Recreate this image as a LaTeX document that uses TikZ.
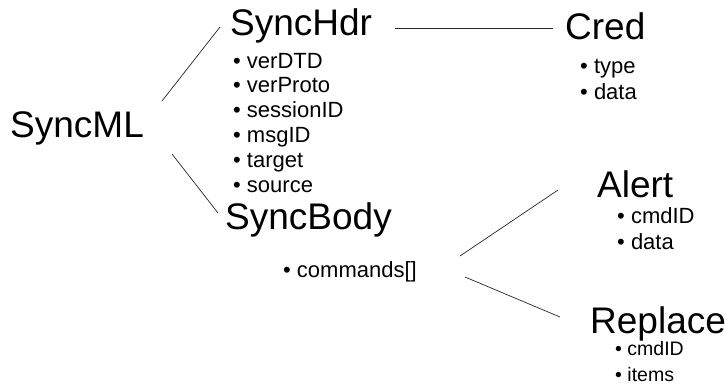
\documentclass[tikz,border=0pt]{standalone}
\usepackage{fontspec}
\setmainfont{Liberation Sans}

\def\tfnt{\fontsize{37}{40}\selectfont}
\def\ifnt{\fontsize{22}{25}\selectfont}
\def\sfnt{\fontsize{19.5}{22}\selectfont}
\def\dy{24.8}

\begin{document}
\begin{tikzpicture}[x=1pt,y=-1pt,
  title/.style={anchor=base west,inner sep=0pt},
  entry/.style={anchor=base west,inner sep=0pt},
  link/.style={line width=0.7pt,black!85}]
 \useasboundingbox (0,0) rectangle (725,391);

 % titles
 \node[title] (ML)   at (10,137)  {\tfnt SyncML};
 \node[title] (Hdr)  at (230,35)  {\tfnt SyncHdr};
 \node[title] (Body) at (225,229) {\tfnt SyncBody};
 \node[title] (Cred) at (565,39)  {\tfnt Cred};
 \node[title] (Al)   at (597,197) {\tfnt Alert};
 \node[title] (Rep)  at (590,333) {\tfnt Replace};

 % bullet lists
 \foreach \t [count=\i from 0] in {verDTD,verProto,sessionID,msgID,target,source}
   \node[entry] (hdr\i) at (233,{68+\dy*\i}) {\ifnt\textbullet\ \t};
 \node[entry] (cmds) at (283,277) {\ifnt\textbullet\ commands[]};
 \foreach \t [count=\i from 0] in {type,data}
   \node[entry] (cred\i) at (580,{73+26*\i}) {\ifnt\textbullet\ \t};
 \foreach \t [count=\i from 0] in {cmdID,data}
   \node[entry] (al\i) at (617,{223+26*\i}) {\ifnt\textbullet\ \t};
 \foreach \t [count=\i from 0] in {cmdID,items}
   \node[entry] (rep\i) at (615,{355+26*\i}) {\sfnt\textbullet\ \t};

 % line ends
 \coordinate (mlA) at (162,101);  \coordinate (hdrA) at (220,27);
 \coordinate (mlB) at (172,154);  \coordinate (bodyA) at (218,213);
 \coordinate (hdrB) at (395,28);  \coordinate (credA) at (553,28);
 \coordinate (cmdA) at (460,256); \coordinate (alA) at (558,190);
 \coordinate (cmdB) at (465,277); \coordinate (repA) at (560,317);

 \draw[link] (mlA) -- (hdrA);
 \draw[link] (mlB) -- (bodyA);
 \draw[link] (hdrB) -- (credA);
 \draw[link] (cmdA) -- (alA);
 \draw[link] (cmdB) -- (repA);
\end{tikzpicture}
\end{document}
